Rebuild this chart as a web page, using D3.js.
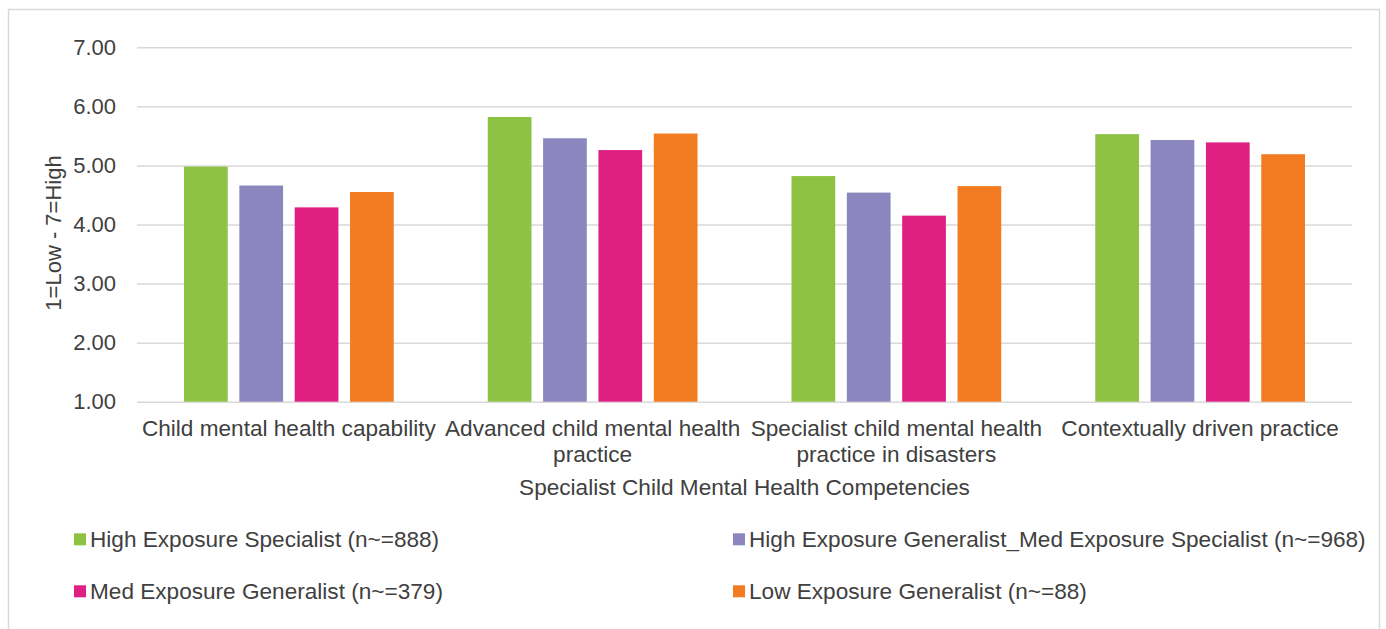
<!DOCTYPE html>
<html>
<head>
<meta charset="utf-8">
<script src="https://cdn.jsdelivr.net/npm/d3@7"></script>
<style>
  html, body { margin: 0; padding: 0; background: #fff; }
  svg { display: block; font-family: "Liberation Sans", Arial, sans-serif; }
</style>
</head>
<body>
<svg id="chart" width="1386" height="629"></svg>
<script>
// Competency groups along the x axis
const categories = [
  "Child mental health capability",
  "Advanced child mental health practice",
  "Specialist child mental health practice in disasters",
  "Contextually driven practice"
];

// Exposure groups (legend order)
const seriesNames = [
  "High Exposure Specialist (n~=888)",
  "High Exposure Generalist_Med Exposure Specialist (n~=968)",
  "Med Exposure Generalist (n~=379)",
  "Low Exposure Generalist (n~=88)"
];
const seriesColors = ["#8dc243", "#8c86be", "#e01f82", "#f37b21"];

// Mean ratings, one array per exposure group, in category order
const highSpecialist   = [4.98, 5.82, 4.82, 5.53];
const highGenMedSpec   = [4.66, 5.46, 4.54, 5.43];
const medGeneralist    = [4.29, 5.26, 4.15, 5.39];
const lowGeneralist    = [4.55, 5.54, 4.65, 5.19];
const seriesValues = [highSpecialist, highGenMedSpec, medGeneralist, lowGeneralist];

const yTicks = [1, 2, 3, 4, 5, 6, 7];
const yTitle = "1=Low - 7=High";
const xTitle = "Specialist Child Mental Health Competencies";

const textColor = "#404040";
const gridColor = "#d9d9d9";
const tickFontSize = 22;
const labelFontSize = 22.6;

const svg = d3.select("#chart");

// Outer chart frame
svg.append("rect")
  .attr("x", 8.5).attr("y", 9.5)
  .attr("width", 1371).attr("height", 640)
  .attr("fill", "none").attr("stroke", gridColor).attr("stroke-width", 1.5);

const plot = { left: 137, right: 1352, top: 47.3, bottom: 401.7 };

const y = d3.scaleLinear().domain([1, 7]).range([plot.bottom, plot.top]);
const x0 = d3.scaleBand().domain(categories).range([plot.left, plot.right]).padding(0);
const groupInset = 47;
const x1 = d3.scaleBand().domain(seriesNames)
  .range([groupInset, x0.bandwidth() - groupInset])
  .paddingInner(0.21).paddingOuter(0);
const color = d3.scaleOrdinal().domain(seriesNames).range(seriesColors);

// Y axis with horizontal gridlines
const yAxis = svg.append("g")
  .attr("transform", `translate(${plot.left},0)`)
  .call(d3.axisLeft(y).tickValues(yTicks).tickFormat(d3.format(".2f"))
    .tickSize(-(plot.right - plot.left)).tickPadding(21));
yAxis.select(".domain").remove();
yAxis.selectAll(".tick line").attr("stroke", gridColor).attr("stroke-width", 1.5);
yAxis.selectAll(".tick text")
  .attr("fill", textColor).attr("font-size", tickFontSize)
  .attr("font-family", "Liberation Sans, Arial, sans-serif");

// Bars
const groups = svg.append("g").selectAll("g")
  .data(categories)
  .join("g")
  .attr("transform", d => `translate(${x0(d)},0)`);

groups.selectAll("rect")
  .data((c, ci) => seriesNames.map((s, si) => ({ s, v: seriesValues[si][ci] })))
  .join("rect")
  .attr("x", d => x1(d.s))
  .attr("width", x1.bandwidth())
  .attr("y", d => y(d.v))
  .attr("height", d => y(1) - y(d.v))
  .attr("fill", d => color(d.s));

// Category labels, wrapped to the band width
const xLabels = svg.append("g");
categories.forEach(c => {
  const cx = x0(c) + x0.bandwidth() / 2;
  const t = xLabels.append("text")
    .attr("x", cx)
    .attr("y", 436)
    .attr("text-anchor", "middle")
    .attr("font-size", labelFontSize)
    .attr("fill", textColor);
  const words = c.split(" ");
  let line = [];
  let tspan = t.append("tspan").attr("x", cx).attr("dy", 0);
  words.forEach(w => {
    line.push(w);
    tspan.text(line.join(" "));
    if (tspan.node().getComputedTextLength() > x0.bandwidth() && line.length > 1) {
      line.pop();
      tspan.text(line.join(" "));
      line = [w];
      tspan = t.append("tspan").attr("x", cx).attr("dy", 25.5).text(w);
    }
  });
});

// Axis titles
svg.append("text")
  .attr("x", (plot.left + plot.right) / 2)
  .attr("y", 495)
  .attr("text-anchor", "middle")
  .attr("font-size", labelFontSize)
  .attr("fill", textColor)
  .text(xTitle);

svg.append("text")
  .attr("transform", "translate(61,233) rotate(-90)")
  .attr("text-anchor", "middle")
  .attr("font-size", tickFontSize)
  .attr("fill", textColor)
  .text(yTitle);

// Legend: two columns, two rows
const legendCols = [74, 733];
const legendRows = [539.3, 591.3];
const legend = svg.append("g");
seriesNames.forEach((s, i) => {
  const lx = legendCols[i % 2];
  const ly = legendRows[Math.floor(i / 2)];
  legend.append("rect")
    .attr("x", lx).attr("y", ly - 6)
    .attr("width", 12).attr("height", 12)
    .attr("fill", color(s));
  legend.append("text")
    .attr("x", lx + 16).attr("y", ly + 7.7)
    .attr("font-size", labelFontSize)
    .attr("fill", textColor)
    .text(s);
});
</script>
</body>
</html>
